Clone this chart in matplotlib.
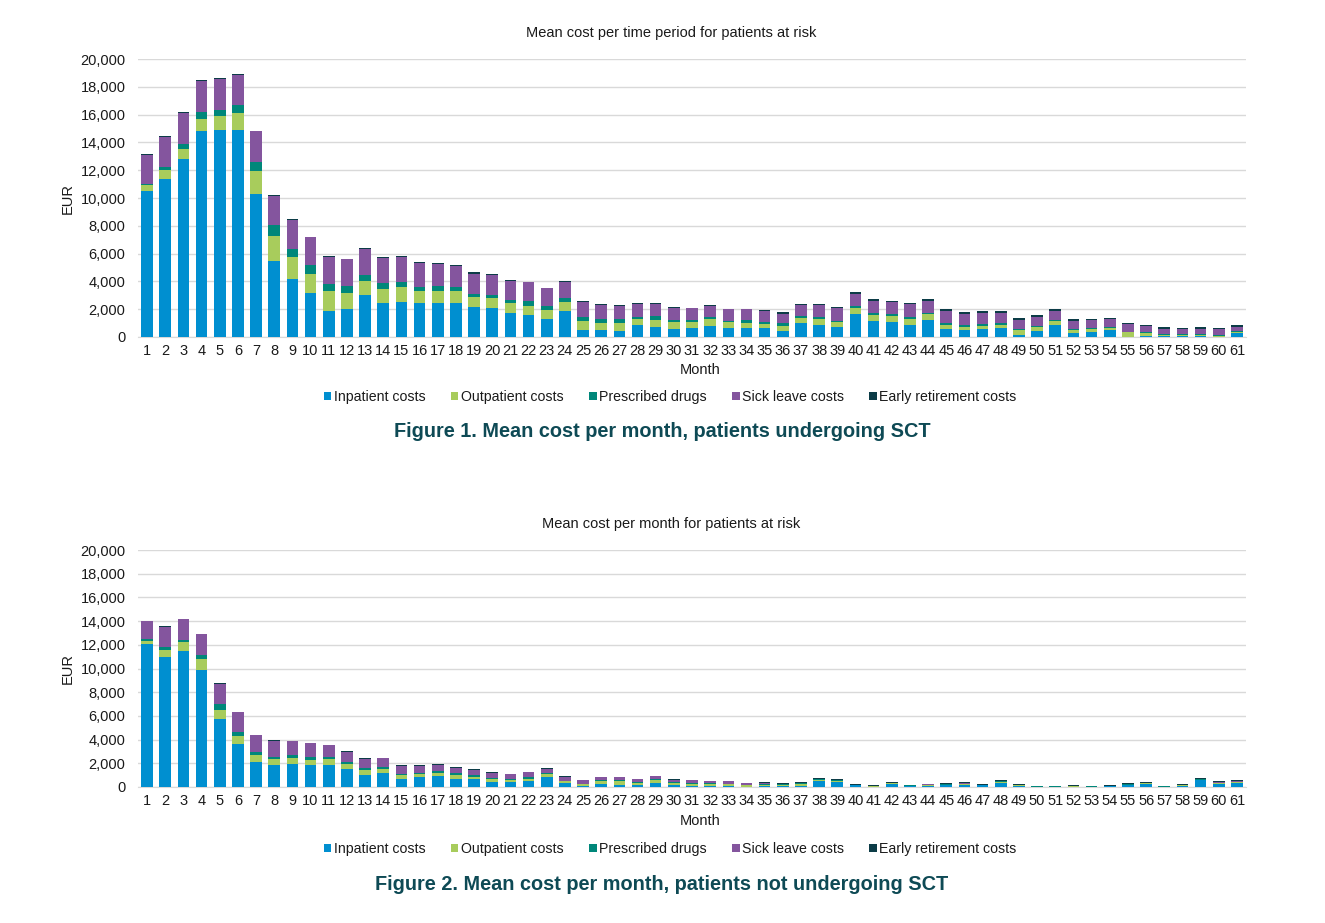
import matplotlib
matplotlib.use("Agg")
import matplotlib.pyplot as plt
from matplotlib.ticker import FuncFormatter
import numpy as np

plt.rcParams['font.family'] = ['Liberation Sans', 'DejaVu Sans']

months = list(range(1, 62))
series_names = ["Inpatient costs", "Outpatient costs", "Prescribed drugs",
                "Sick leave costs", "Early retirement costs"]
colors = ["#008fd0", "#a8cc5c", "#00877a", "#84559e", "#0c3c47"]

# Figure 1: patients undergoing SCT (EUR per month)
sct_inpatient = [10500, 11350, 12770, 14850, 14870, 14870, 10310, 5450, 4170, 3140,
                 1890, 2010, 3050, 2470, 2540, 2420, 2470, 2470, 2130, 2090,
                 1750, 1610, 1320, 1890, 530, 500, 430, 860, 720, 580,
                 650, 790, 670, 680, 620, 430, 1010, 890, 720, 1680,
                 1130, 1080, 860, 1230, 580, 500, 580, 620, 140, 460,
                 890, 290, 360, 500, 30, 100, 50, 50, 50, 20, 260]
sct_outpatient = [400, 650, 790, 860, 1030, 1270, 1610, 1800, 1560, 1420,
                  1450, 1180, 950, 980, 1080, 870, 870, 840, 750, 690,
                  700, 640, 650, 630, 600, 530, 550, 440, 500, 480,
                  430, 480, 390, 340, 340, 360, 360, 380, 360, 380,
                  480, 410, 410, 400, 310, 240, 240, 270, 340, 240,
                  240, 190, 220, 170, 310, 160, 90, 90, 90, 80, 80]
sct_drugs = [100, 200, 290, 460, 440, 530, 700, 790, 630, 600,
             450, 500, 460, 460, 360, 330, 330, 310, 240, 270,
             240, 360, 280, 260, 330, 240, 290, 140, 290, 160,
             170, 150, 120, 180, 120, 190, 120, 170, 100, 170,
             120, 140, 170, 80, 120, 120, 120, 90, 70, 90,
             120, 70, 70, 70, 40, 80, 80, 50, 80, 70, 70]
sct_sick = [2100, 2200, 2280, 2280, 2230, 2210, 2210, 2090, 2040, 2040,
            1970, 1920, 1870, 1800, 1770, 1680, 1580, 1470, 1440, 1410,
            1340, 1350, 1250, 1180, 1080, 1030, 990, 910, 840, 840,
            810, 810, 810, 790, 770, 700, 810, 840, 880, 870,
            890, 890, 910, 880, 840, 800, 760, 720, 670, 650,
            620, 630, 570, 530, 530, 450, 380, 390, 380, 380, 310]
sct_early = [50, 30, 40, 30, 50, 40, 20, 50, 60, 20,
             40, 20, 50, 50, 50, 70, 70, 90, 90, 60,
             50, 20, 50, 70, 50, 80, 70, 70, 100, 80,
             50, 70, 50, 50, 90, 120, 100, 100, 100, 140,
             120, 100, 100, 120, 170, 160, 200, 170, 150, 140,
             120, 90, 80, 70, 100, 100, 100, 70, 100, 70, 140]

# Figure 2: patients not undergoing SCT (EUR per month)
nosct_inpatient = [12060, 10990, 11440, 9890, 5760, 3650, 2080, 1880, 1970, 1880,
                   1880, 1550, 980, 1150, 700, 810, 900, 700, 650, 390,
                   450, 480, 870, 310, 80, 280, 200, 150, 370, 150,
                   120, 80, 80, 40, 50, 50, 120, 530, 420, 150,
                   40, 280, 50, 80, 150, 170, 150, 350, 100, 20,
                   20, 20, 20, 50, 150, 280, 20, 80, 560, 280, 300]
nosct_outpatient = [220, 590, 760, 870, 700, 680, 590, 480, 480, 420,
                    480, 390, 430, 370, 310, 290, 280, 340, 220, 280,
                    170, 220, 200, 170, 140, 220, 300, 200, 190, 170,
                    150, 160, 150, 110, 150, 130, 120, 70, 90, 30,
                    30, 30, 50, 60, 40, 70, 20, 60, 40, 20,
                    20, 60, 20, 30, 50, 30, 20, 70, 40, 50, 90]
nosct_drugs = [170, 200, 220, 370, 570, 340, 310, 200, 280, 260,
               170, 200, 220, 190, 110, 110, 140, 140, 110, 90,
               80, 140, 110, 50, 60, 90, 90, 80, 90, 80,
               80, 60, 60, 40, 60, 50, 60, 50, 60, 30,
               30, 30, 30, 40, 40, 40, 20, 60, 30, 10,
               10, 30, 10, 20, 30, 30, 10, 60, 40, 40, 60]
nosct_sick = [1550, 1710, 1720, 1740, 1680, 1630, 1380, 1320, 1120, 1120,
              980, 810, 760, 710, 650, 560, 560, 450, 480, 420,
              370, 400, 340, 310, 280, 230, 240, 230, 240, 210,
              200, 170, 180, 120, 60, 40, 50, 30, 50, 0,
              0, 0, 0, 40, 40, 40, 0, 40, 30, 0,
              0, 0, 0, 0, 20, 0, 0, 0, 20, 70, 60]
nosct_early = [50, 60, 50, 60, 60, 50, 50, 60, 60, 60,
               60, 60, 60, 50, 60, 60, 60, 60, 60, 60,
               50, 50, 50, 60, 60, 40, 40, 30, 40, 40,
               40, 40, 40, 30, 70, 70, 70, 50, 50, 40,
               40, 50, 70, 60, 70, 70, 60, 50, 50, 30,
               30, 30, 30, 40, 60, 50, 30, 40, 70, 70, 80]

sct_series = [sct_inpatient, sct_outpatient, sct_drugs, sct_sick, sct_early]
nosct_series = [nosct_inpatient, nosct_outpatient, nosct_drugs, nosct_sick, nosct_early]

y_ticks = list(range(0, 20001, 2000))
caption_color = "#0e4a55"

W, H = 1325, 923
fig = plt.figure(figsize=(W / 100, H / 100), dpi=100)


def draw_panel(series, top_px, base_px, title, title_y, month_y, legend_y, caption, caption_y):
    left_px, right_px = 138, 1246
    ax = fig.add_axes([left_px / W, 1 - base_px / H, (right_px - left_px) / W, (base_px - top_px) / H])
    bottom = np.zeros(len(months))
    for name, vals, col in zip(series_names, series, colors):
        ax.bar(months, vals, bottom=bottom, width=0.64, color=col, label=name,
               linewidth=0, zorder=3)
        bottom += np.array(vals)
    ax.set_xlim(0.5, 61.5)
    ax.set_ylim(0, 20000)
    ax.set_yticks(y_ticks)
    ax.yaxis.set_major_formatter(FuncFormatter(lambda v, p: f"{int(v):,}"))
    ax.set_xticks(months)
    ax.set_xticklabels([str(m) for m in months])
    ax.grid(axis="y", color="#d9d9d9", linewidth=1, zorder=0)
    for s in ["top", "right", "left"]:
        ax.spines[s].set_visible(False)
    ax.spines["bottom"].set_color("#d9d9d9")
    ax.tick_params(axis="both", length=0, labelsize=10.5, colors="#1a1a1a")
    ax.tick_params(axis="x", pad=5)
    ax.tick_params(axis="y", pad=9)
    fig.text(68 / W, 1 - (top_px + base_px) / 2 / H, "EUR", rotation=90,
             ha="center", va="center", fontsize=10.5, color="#1a1a1a")
    fig.text(671 / W, 1 - title_y / H, title, ha="center", va="center",
             fontsize=10.5, color="#1a1a1a")
    fig.text(700 / W, 1 - month_y / H, "Month", ha="center", va="center",
             fontsize=10.5, color="#1a1a1a")
    handles, labels = ax.get_legend_handles_labels()
    fig.legend(handles, labels, loc="center", ncol=5, frameon=False,
               bbox_to_anchor=(670 / W, 1 - legend_y / H), fontsize=10.2,
               handlelength=0.55, handleheight=0.55, handletextpad=0.15,
               columnspacing=1.8, labelcolor="#1a1a1a")
    fig.text(662 / W, 1 - caption_y / H, caption, ha="center", va="center",
             fontsize=14.3, fontweight="bold", color=caption_color)
    return ax


draw_panel(sct_series, 59, 337, "Mean cost per time period for patients at risk",
           33, 370, 397, "Figure 1. Mean cost per month, patients undergoing SCT", 431)
draw_panel(nosct_series, 550, 787, "Mean cost per month for patients at risk",
           524, 821, 849, "Figure 2. Mean cost per month, patients not undergoing SCT", 884)

fig.savefig("out.png", dpi=100)
plt.close(fig)
